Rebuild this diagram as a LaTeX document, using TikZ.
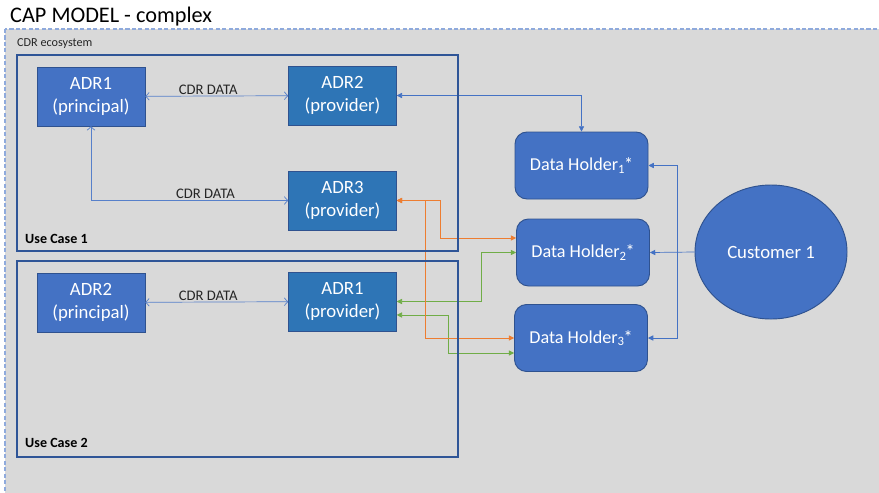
\documentclass[tikz,border=0pt]{standalone}
\usepackage{fontspec}
\setmainfont{Carlito}
\usetikzlibrary{positioning, shapes.geometric, arrows.meta}

\definecolor{boxblue}{HTML}{4472C4}
\definecolor{provblue}{HTML}{2E75B6}
\definecolor{edgeblue}{HTML}{2F528F}
\definecolor{frameblue}{HTML}{2F5597}
\definecolor{dashblue}{HTML}{8FAADC}
\definecolor{bggray}{HTML}{D9D9D9}
\definecolor{linkorange}{HTML}{ED7D31}
\definecolor{linkgreen}{HTML}{70AD47}

\tikzset{
  adr/.style={draw=edgeblue, line width=0.4pt, fill=boxblue, text=white, inner sep=0pt,
    minimum width=3.24cm, minimum height=1.77cm, align=center, font=\fontsize{16}{19}\selectfont},
  prov/.style={adr, fill=provblue},
  holder/.style={draw=edgeblue, line width=0.8pt, fill=boxblue, text=white, rounded corners=0.36cm,
    minimum width=3.99cm, minimum height=2.01cm, font=\fontsize{15.5}{18}\selectfont},
  client/.style={ellipse, draw=edgeblue, line width=0.8pt, fill=boxblue, text=white, inner sep=0pt,
    minimum width=4.56cm, minimum height=4.02cm, font=\fontsize{16}{19}\selectfont},
  cdrdata/.style={draw=boxblue!90!white, line width=0.6pt,
    {Straight Barb[length=3pt,width=6.5pt]}-{Straight Barb[length=3pt,width=6.5pt]}},
  tip/.style={-{Triangle[length=4.5pt,width=4.5pt]}},
  bothtip/.style={{Triangle[length=4.5pt,width=4.5pt]}-{Triangle[length=4.5pt,width=4.5pt]}},
  link/.style={draw=#1, line width=0.6pt},
  ucframe/.style={draw=frameblue, line width=1.6pt},
  uclabel/.style={anchor=west, inner sep=0pt, font=\fontsize{12}{14}\selectfont\bfseries},
  datalabel/.style={font=\fontsize{12.5}{14}\selectfont, text=black!85, inner sep=1pt}
}

\begin{document}
\begin{tikzpicture}[x=0.03cm, y=-0.03cm]
    \useasboundingbox (0,0) rectangle (879,492);

    % ecosystem background
    \fill [bggray] (5,29) rectangle (886,499);
    \draw [dashblue, line width=0.9pt, dash pattern=on 3.5pt off 2pt] (5,29) rectangle (886,499);
    \node [anchor=west, inner sep=0pt, font=\fontsize{19}{21}\selectfont] (title) at (10,17) {CAP MODEL - complex};
    \node [anchor=west, inner sep=0pt, font=\fontsize{10.4}{12}\selectfont, text=black!85] (eco) at (17,44) {CDR ecosystem};

    % use case 1
    \node [adr] (adr1p) at (91,96.5) {ADR1\\(principal)};
    \node [prov] (adr2v) at (342.5,95.5) {ADR2\\(provider)};
    \node [prov] (adr3v) at (342.5,200.5) {ADR3\\(provider)};

    % use case 2
    \node [adr] (adr2p) at (91,302.5) {ADR2\\(principal)};
    \node [prov] (adr1v) at (342.5,301.5) {ADR1\\(provider)};

    % data holders and customer
    \node [holder] (dh1) at (581.5,165.5) {Data Holder\textsubscript{1}\kern-1pt*};
    \node [holder] (dh2) at (583,252.5) {Data Holder\textsubscript{2}\kern-1pt*};
    \node [holder] (dh3) at (581,338) {Data Holder\textsubscript{3}\kern-1pt*};
    \node [client] (cust) at (771,252) {Customer 1};

    % CDR data flows
    \draw [cdrdata] (adr1p) -- (adr2v) node [datalabel, pos=0.44, above] {CDR DATA};
    \draw [cdrdata] (adr1p.south) |- (adr3v.west) node [datalabel, pos=0.79, above] {CDR DATA};
    \draw [cdrdata] (adr2p) -- (adr1v) node [datalabel, pos=0.44, above] {CDR DATA};

    % customer consent
    \coordinate (split) at (677,252);
    \draw [link=boxblue, tip] (cust.west) -- (dh2.east);
    \draw [link=boxblue, tip] (split) |- (dh1.east);
    \draw [link=boxblue, tip] (split) |- (dh3.east);

    % provider to holder links
    \draw [link=boxblue, bothtip] (adr2v.east) -| (dh1.north);
    \draw [link=linkgreen, bothtip] (adr1v.east) -- ++(84.5,0) |- (dh2.west);
    \draw [link=linkgreen, bothtip] ([yshift=-11.5pt]adr1v.east) -- ++(51.5,0) |- ([yshift=-12.8pt]dh3.west);
    \draw [link=linkorange, bothtip] (adr3v.east) -- ++(44,0) |- ([yshift=12.4pt]dh2.west);
    \draw [link=linkorange, bothtip] (adr3v.east) -- ++(29,0) |- (dh3.west);

    % use case frames
    \draw [ucframe] (17,55) rectangle (458,251);
    \node [uclabel] (uc1) at (25,239) {Use Case 1};
    \draw [ucframe] (17,261) rectangle (458,457);
    \node [uclabel] (uc2) at (25,443) {Use Case 2};
\end{tikzpicture}
\end{document}
